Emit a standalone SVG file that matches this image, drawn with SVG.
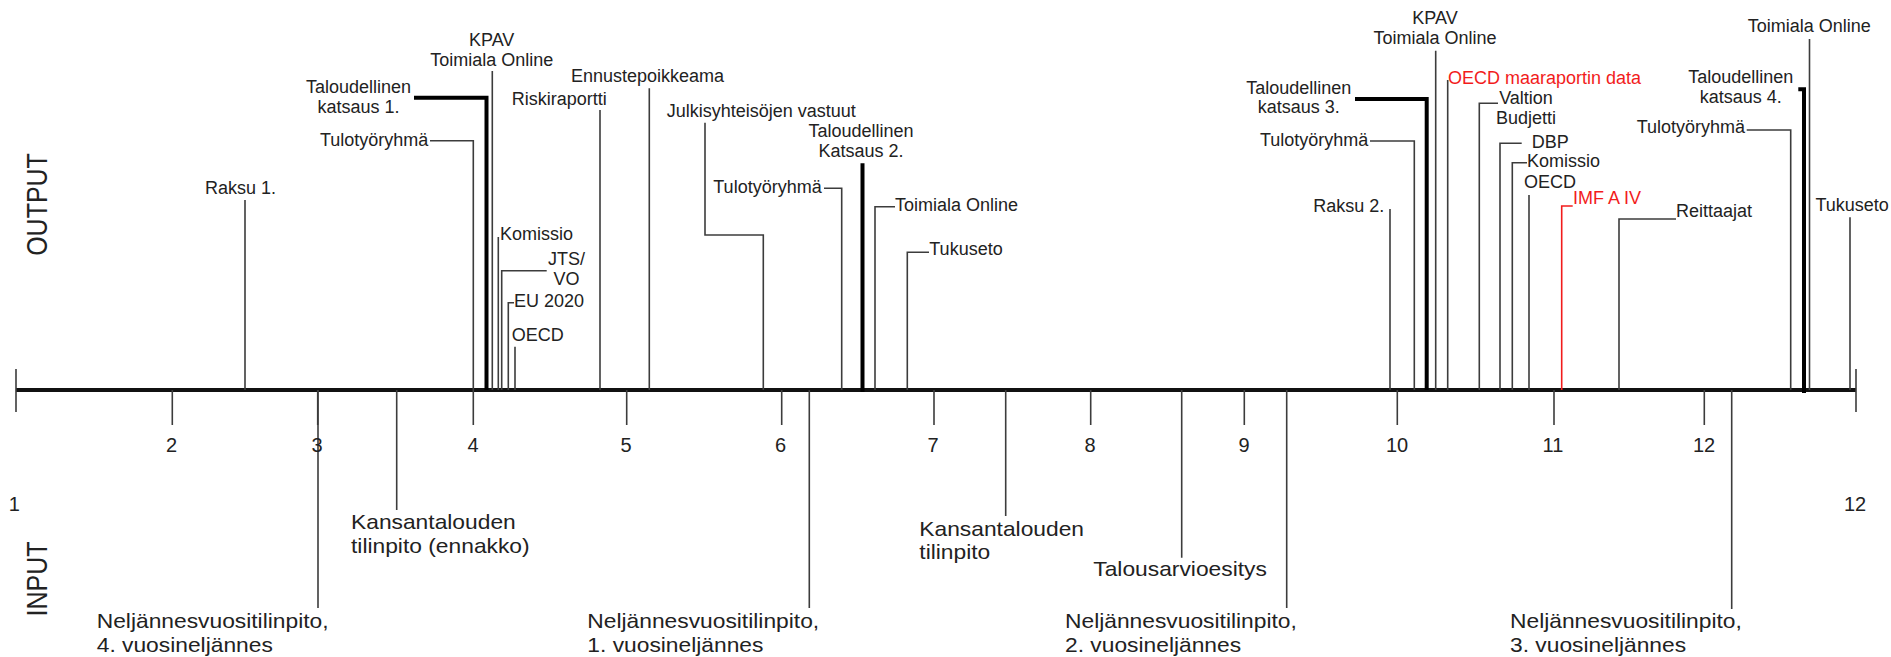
<svg xmlns="http://www.w3.org/2000/svg" width="1891" height="657" viewBox="0 0 1891 657">
<style>
text{font-family:"Liberation Sans",Arial,sans-serif;fill:#222}
.t{font-size:18px}
.m{text-anchor:middle}
.r{fill:#f21c1c}
.b{font-size:20px}
.d{font-size:20px;text-anchor:middle}
.v{font-size:25px;text-anchor:middle}
.ln{fill:none;stroke:#3c3c3c;stroke-width:1.6}
.rl{fill:none;stroke:#f21c1c;stroke-width:1.6}
.tk{fill:none;stroke:#000;stroke-width:4}
.ax{fill:none;stroke:#111;stroke-width:4}
</style>
<rect width="1891" height="657" fill="#fff"/>
<g id="connectors">
<path class="ax" d="M16,390 H1856"/>
<path class="ln" d="M16,369 V412 M1856,369 V412"/>
<path class="ln" d="M172.3,390 V425 M317.7,390 V425 M473.3,390 V425 M626.7,390 V425 M781.7,390 V425 M934,390 V425 M1090.7,390 V425 M1244.3,390 V425 M1397.3,390 V425 M1554,390 V425 M1704.3,390 V425"/>
<path class="ln" d="M318,390 V608 M396.7,390 V510 M809.3,390 V608 M1005.7,390 V516 M1181.7,390 V557.7 M1286.7,390 V608 M1731.7,390 V609"/>
<path class="ln" d="M245,200 V390 M430,140.7 H473.3 V390 M492.3,71 V390 M498.3,237 V390 M546.7,270.7 H501.7 V390 M514,302.7 H508.3 V390 M515,346.7 V390 M600,110 V390 M649.3,88.3 V390 M705,122.7 V235 H763.3 V390 M824,188.3 H841.7 V390 M895,206.7 H875 V390 M929,252.3 H907.3 V390"/>
<path class="ln" d="M1370,141 H1414.3 V390 M1390,209 V390 M1435.7,50.7 V390 M1447.7,80 V390 M1498,103.3 H1479.3 V390 M1521.7,143.3 H1500 V390 M1527,162.7 H1512.3 V390 M1529,195 V390 M1676,219 H1619 V390 M1746.7,130 H1790.7 V390 M1809.5,39 V390 M1850,217.3 V390"/>
<path class="rl" d="M1572.7,206 H1561.7 V390"/>
<path class="tk" d="M414,97.7 H486.5 V390 M862.5,163.3 V392 M1355,99 H1426.7 V390 M1798.3,89.3 H1804 V393"/>
</g>
<g id="axis-labels">
<text class="v" transform="translate(47,204.5) scale(1.17,1) rotate(-90)">OUTPUT</text>
<text class="v" transform="translate(47.3,579) scale(1.17,1) rotate(-90)">INPUT</text>
<text class="d" x="14.3" y="511">1</text>
<text class="d" x="1855" y="511">12</text>
<text class="d" x="171.5" y="451.7">2</text>
<text class="d" x="317" y="451.7">3</text>
<text class="d" x="473" y="451.7">4</text>
<text class="d" x="626" y="451.7">5</text>
<text class="d" x="780.5" y="451.7">6</text>
<text class="d" x="933" y="451.7">7</text>
<text class="d" x="1090" y="451.7">8</text>
<text class="d" x="1244" y="451.7">9</text>
<text class="d" x="1397" y="451.7">10</text>
<text class="d" x="1553" y="451.7">11</text>
<text class="d" x="1704" y="451.7">12</text>
</g>
<g id="out-raksu1"><text class="t m" x="240.5" y="194">Raksu 1.</text></g>
<g id="out-katsaus1"><text class="t m" x="358.5" y="93.3">Taloudellinen<tspan x="358.5" y="112.7">katsaus 1.</tspan></text></g>
<g id="out-tulo1"><text class="t" x="320" y="145.7">Tulotyöryhmä</text></g>
<g id="out-kpav1"><text class="t m" x="491.7" y="45.7">KPAV<tspan x="491.7" y="65.7">Toimiala Online</tspan></text></g>
<g id="out-komissio1"><text class="t" x="500" y="240">Komissio</text></g>
<g id="out-jts"><text class="t m" x="566.5" y="265">JTS/<tspan x="566.5" y="285">VO</tspan></text></g>
<g id="out-eu2020"><text class="t" x="514" y="307.3">EU 2020</text></g>
<g id="out-oecd1"><text class="t" x="511.7" y="340.7">OECD</text></g>
<g id="out-riski"><text class="t" x="511.7" y="105">Riskiraportti</text></g>
<g id="out-ennuste"><text class="t" x="571" y="81.7">Ennustepoikkeama</text></g>
<g id="out-julkis"><text class="t" x="666.7" y="116.7">Julkisyhteisöjen vastuut</text></g>
<g id="out-tulo2"><text class="t" x="713.3" y="192.7">Tulotyöryhmä</text></g>
<g id="out-katsaus2"><text class="t m" x="861" y="137.3">Taloudellinen<tspan x="861" y="156.7">Katsaus 2.</tspan></text></g>
<g id="out-toimiala2"><text class="t" x="895" y="210.7">Toimiala Online</text></g>
<g id="out-tukuseto1"><text class="t" x="929.3" y="255">Tukuseto</text></g>
<g id="out-katsaus3"><text class="t m" x="1298.8" y="94.3">Taloudellinen<tspan x="1298.8" y="113.3">katsaus 3.</tspan></text></g>
<g id="out-tulo3"><text class="t" x="1260" y="145.7">Tulotyöryhmä</text></g>
<g id="out-raksu2"><text class="t" x="1313.3" y="212.3">Raksu 2.</text></g>
<g id="out-kpav2"><text class="t m" x="1435" y="24">KPAV<tspan x="1435" y="44">Toimiala Online</tspan></text></g>
<g id="out-oecdmaa"><text class="t r" x="1448" y="84">OECD maaraportin data</text></g>
<g id="out-valtion"><text class="t m" x="1526" y="104.3">Valtion<tspan x="1526" y="124">Budjetti</tspan></text></g>
<g id="out-dbp"><text class="t" x="1531.7" y="147.7">DBP</text></g>
<g id="out-komissio2"><text class="t" x="1527" y="166.7">Komissio</text></g>
<g id="out-oecd2"><text class="t" x="1524" y="188.3">OECD</text></g>
<g id="out-imf"><text class="t r" x="1573" y="204.3">IMF A IV</text></g>
<g id="out-reitt"><text class="t" x="1676" y="217.3">Reittaajat</text></g>
<g id="out-katsaus4"><text class="t m" x="1740.8" y="83.3">Taloudellinen<tspan x="1740.8" y="102.7">katsaus 4.</tspan></text></g>
<g id="out-tulo4"><text class="t" x="1636.7" y="133.3">Tulotyöryhmä</text></g>
<g id="out-toimiala3"><text class="t m" x="1809.3" y="31.7">Toimiala Online</text></g>
<g id="out-tukuseto2"><text class="t" x="1815.5" y="210.7">Tukuseto</text></g>
<g id="in-ktp-ennakko"><text class="b" transform="translate(351,529) scale(1.14,1)">Kansantalouden<tspan x="0" y="24.3">tilinpito (ennakko)</tspan></text></g>
<g id="in-nvt4"><text class="b" transform="translate(96.7,627.7) scale(1.14,1)">Neljännesvuositilinpito,<tspan x="0" y="24">4. vuosineljännes</tspan></text></g>
<g id="in-nvt1"><text class="b" transform="translate(587.3,627.7) scale(1.14,1)">Neljännesvuositilinpito,<tspan x="0" y="24">1. vuosineljännes</tspan></text></g>
<g id="in-ktp"><text class="b" transform="translate(919.3,535.7) scale(1.14,1)">Kansantalouden<tspan x="0" y="23.6">tilinpito</tspan></text></g>
<g id="in-talousarvio"><text class="b" transform="translate(1093.3,575.7) scale(1.14,1)">Talousarvioesitys</text></g>
<g id="in-nvt2"><text class="b" transform="translate(1065,627.7) scale(1.14,1)">Neljännesvuositilinpito,<tspan x="0" y="24">2. vuosineljännes</tspan></text></g>
<g id="in-nvt3"><text class="b" transform="translate(1510,627.7) scale(1.14,1)">Neljännesvuositilinpito,<tspan x="0" y="24">3. vuosineljännes</tspan></text></g>
</svg>
